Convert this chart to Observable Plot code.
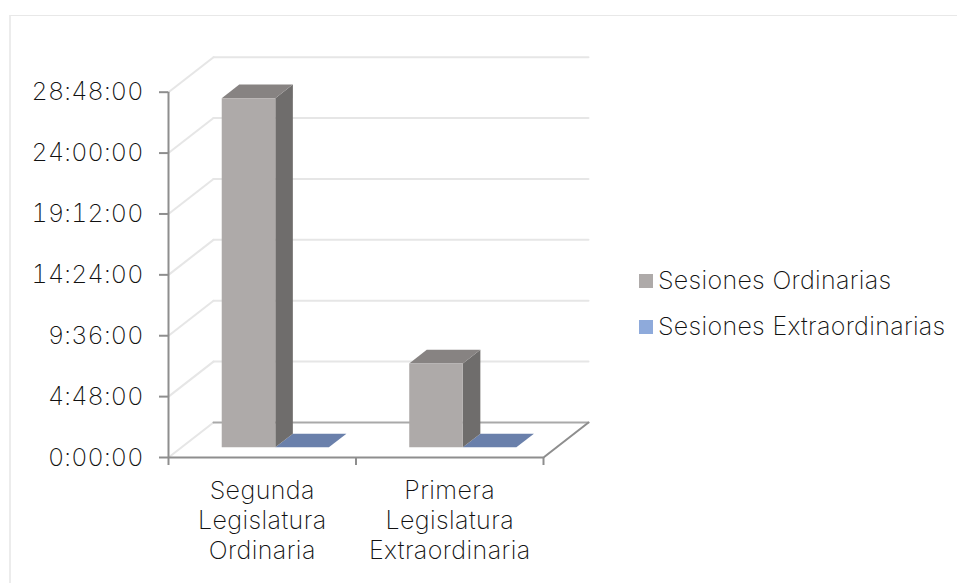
<!DOCTYPE html>
<html lang="es">
<head>
<meta charset="utf-8">
<script src="https://cdn.jsdelivr.net/npm/d3@7"></script>
<script src="https://cdn.jsdelivr.net/npm/@observablehq/plot@0.6"></script>
<style>
  html, body { margin: 0; padding: 0; background: #fff; }
  #chart { position: relative; width: 957px; height: 583px; overflow: hidden;
           font-family: "Inter", sans-serif; font-weight: 200; color: #111; }
  #chart svg { display: block; position: absolute; left: 0; top: 0; background: transparent; }
  #chart svg text { letter-spacing: 0.42px; }
  #chart svg g[aria-label="y-axis tick label"] text { letter-spacing: 0.2px; }
  #border { position: absolute; left: 9px; top: 15px; right: -5px; bottom: -5px;
            border-top: 1px solid #e8e8e8; border-left: 2px solid #ececec; }
  #legend { position: absolute; left: 639px; top: 257px; font-size: 25px; line-height: 46px; letter-spacing: 0.32px; white-space: nowrap; }
  #legend div { display: flex; align-items: center; }
  #legend i { display: inline-block; width: 14px; height: 14px; margin-right: 5px; position: relative; top: 1px; }
</style>
</head>
<body>
<div id="chart"><div id="border"></div><div id="legend"></div></div>
<script>
const categories = ["Segunda\nLegislatura\nOrdinaria", "Primera\nLegislatura\nExtraordinaria"];
const seriesNames = ["Sesiones Ordinarias", "Sesiones Extraordinarias"];
const ordinarias = [27.53, 6.62];       // hours
const extraordinarias = [0, 0];         // hours
const yTicks = [0, 4.8, 9.6, 14.4, 19.2, 24, 28.8];
const seriesColors = ["#aeaaa9", "#8eaadb"];
const shades = {
  grey: {front: "#aeaaa9", side: "#6f6d6c", top: "#878382"},
  blue: {front: "#8eaadb", side: "#56678a", top: "#6a80ab"}
};

// Oblique 3D projection into the data units of the x (category) and y (hours) scales
const depthX = 0.24, depthY = 2.76;
const P = (x, y, z) => ({X: x + z * depthX, Y: y + z * depthY});
const barW = 1 / 3.5, gap = 0.75 * barW / 1, z0 = 0.29, z1 = 0.68;

function face(kind, i, s, v) {
  const a = i + gap + s * barW, b = a + barW;
  const id = `${kind}-${i}-${s}`;
  const pts = kind === "front" ? [P(a, 0, z0), P(b, 0, z0), P(b, v, z0), P(a, v, z0)]
            : kind === "side"  ? [P(b, 0, z0), P(b, 0, z1), P(b, v, z1), P(b, v, z0)]
            :                    [P(a, v, z0), P(b, v, z0), P(b, v, z1), P(a, v, z1)];
  return pts.map(p => ({...p, id}));
}
const facesOf = (kind, values, s) => values.flatMap((v, i) => face(kind, i, s, v));
const polygon = (data, fill) => Plot.line(data, {x: "X", y: "Y", z: "id", fill, stroke: "none", curve: "linear-closed"});
const seg = (a, b, i) => [{...a, id: i}, {...b, id: i}];

const hms = h => {
  const t = Math.round(h * 3600);
  return `${Math.floor(t / 3600)}:${String(Math.floor(t / 60) % 60).padStart(2, "0")}:${String(t % 60).padStart(2, "0")}`;
};

const gridBack = yTicks.slice(1).flatMap((y, i) => seg(P(0, y, 1), P(2, y, 1), i));
const gridSide = yTicks.flatMap((y, i) => seg(P(0, y, 0), P(0, y, 1), i));
const floorBack = seg(P(0, 0, 1), P(2, 0, 1), 0);
const floorRight = seg(P(2, 0, 0), P(2, 0, 1), 0);
const line = (data, stroke, strokeWidth) => Plot.line(data, {x: "X", y: "Y", z: "id", stroke, strokeWidth});

const chart = Plot.plot({
  width: 957, height: 583,
  marginLeft: 168, marginRight: 414, marginTop: 91.7, marginBottom: 126,
  style: {fontFamily: "Inter, sans-serif", fontWeight: 200, background: "transparent"},
  x: {domain: [0, 2]},
  y: {domain: [0, 28.8]},
  marks: [
    line(gridBack, "#e6e6e6", 2),
    line(gridSide, "#e6e6e6", 2),
    line(floorBack, "#a9a9a9", 2),
    line(floorRight, "#8e8e8e", 2),
    polygon(facesOf("top", extraordinarias, 1), shades.blue.top),
    polygon(facesOf("side", ordinarias, 0), shades.grey.side),
    polygon(facesOf("top", ordinarias, 0), shades.grey.top),
    polygon(facesOf("front", ordinarias, 0), shades.grey.front),
    Plot.axisY({ticks: yTicks, tickFormat: hms, tickSize: 9, tickPadding: 16, fontSize: 25, label: null,
                stroke: "#8e8e8e", strokeWidth: 2, fill: "#111"}),
    Plot.axisX({ticks: [0, 1, 2], tickSize: 8, fill: "none", label: null, stroke: "#8e8e8e", strokeWidth: 2}),
    Plot.ruleX([0], {stroke: "#8e8e8e", strokeWidth: 2}),
    Plot.ruleY([0], {stroke: "#8e8e8e", strokeWidth: 2}),
    Plot.text(categories, {x: (d, i) => i + 0.5, y: () => 0, text: d => d, dy: 20, lineAnchor: "top",
                           lineHeight: 1.2, fontSize: 25, fill: "#111"})
  ]
});
const root = document.getElementById("chart");
root.appendChild(chart);

const legend = document.getElementById("legend");
seriesNames.forEach((name, i) => {
  const row = document.createElement("div");
  const sw = document.createElement("i");
  sw.style.background = seriesColors[i];
  row.appendChild(sw);
  row.appendChild(document.createTextNode(name));
  legend.appendChild(row);
});
</script>
</body>
</html>
